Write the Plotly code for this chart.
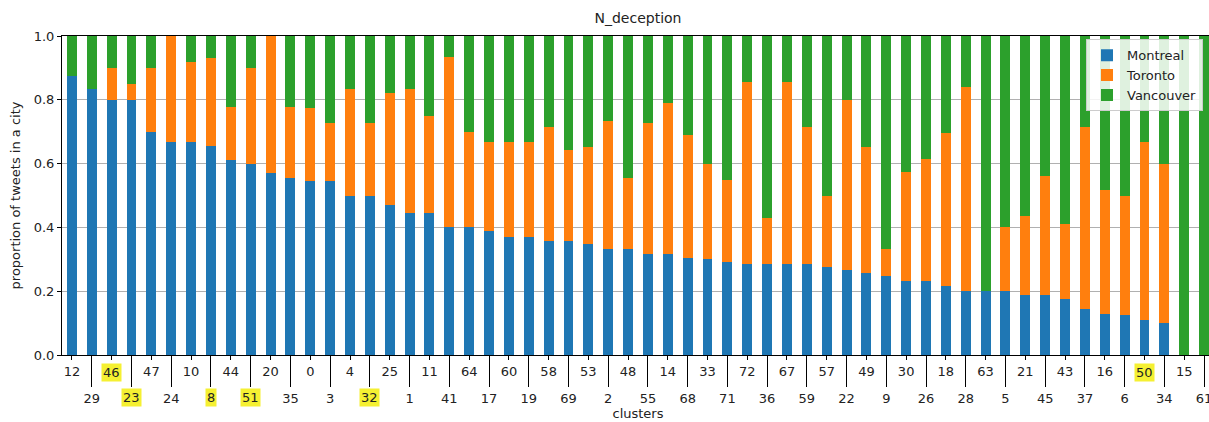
import plotly.graph_objects as go

clusters = ["12", "29", "46", "23", "47", "24", "10", "8", "44", "51",
            "20", "35", "0", "3", "4", "32", "25", "1", "11", "41",
            "64", "17", "60", "19", "58", "69", "53", "2", "48", "55",
            "14", "68", "33", "71", "72", "36", "67", "59", "57", "22",
            "49", "9", "30", "26", "18", "28", "63", "5", "21", "45",
            "43", "37", "16", "6", "50", "34", "15", "61"]

montreal = [0.875, 0.833, 0.800, 0.800, 0.700, 0.667, 0.667, 0.655, 0.611, 0.600,
            0.571, 0.556, 0.545, 0.545, 0.500, 0.500, 0.469, 0.444, 0.444, 0.400,
            0.400, 0.389, 0.370, 0.370, 0.357, 0.357, 0.348, 0.333, 0.333, 0.318,
            0.316, 0.305, 0.300, 0.290, 0.286, 0.286, 0.286, 0.286, 0.277, 0.266,
            0.258, 0.247, 0.231, 0.231, 0.217, 0.200, 0.200, 0.200, 0.1875, 0.1875,
            0.176, 0.143, 0.130, 0.125, 0.111, 0.100, 0.0, 0.0]

toronto = [0.0, 0.0, 0.100, 0.050, 0.200, 0.333, 0.250, 0.276, 0.167, 0.300,
           0.429, 0.222, 0.228, 0.182, 0.333, 0.227, 0.353, 0.389, 0.306, 0.533,
           0.300, 0.278, 0.297, 0.297, 0.357, 0.286, 0.304, 0.400, 0.223, 0.409,
           0.473, 0.385, 0.300, 0.259, 0.571, 0.143, 0.571, 0.428, 0.223, 0.534,
           0.395, 0.086, 0.344, 0.384, 0.479, 0.640, 0.0, 0.200, 0.2475, 0.375,
           0.236, 0.571, 0.386, 0.375, 0.556, 0.500, 0.0, 0.0]

vancouver = [round(1 - m - t, 4) for m, t in zip(montreal, toronto)]

highlighted = ["46", "23", "8", "51", "32", "50"]

colors = {"Montreal": "#1f77b4", "Toronto": "#ff7f0e", "Vancouver": "#2ca02c"}
FONT = "DejaVu Sans"
TXT = "#222222"

xpos = list(range(len(clusters)))
even_idx = [i for i in xpos if i % 2 == 0]
odd_idx = [i for i in xpos if i % 2 == 1]

fig = go.Figure()
for name, vals in [("Montreal", montreal), ("Toronto", toronto), ("Vancouver", vancouver)]:
    fig.add_trace(go.Bar(x=xpos, y=vals, name=name, width=0.5,
                         marker=dict(color=colors[name], line=dict(width=0))))

# helper trace so the second (long-tick) x axis is drawn
fig.add_trace(go.Scatter(x=[xpos[0], xpos[-1]], y=[0, 0], xaxis="x2", mode="lines",
                         line=dict(width=0), opacity=0, showlegend=False,
                         hoverinfo="skip"))

XRANGE = [-0.5, 57.5]
# the original axes run slightly past the right edge of the cropped picture
W, H = 1214, 422
L, T, B = 62, 36, 67
PW = W - L

fig.update_layout(
    width=W, height=H,
    margin=dict(l=L, r=0, t=T, b=B, pad=0),
    paper_bgcolor="white", plot_bgcolor="white",
    barmode="stack", bargap=0,
    font=dict(family=FONT, size=13, color=TXT),
    title=dict(text="N_deception", x=638 / W,
               xanchor="center", y=1 - 18 / H, yanchor="middle",
               font=dict(family=FONT, size=14, color=TXT)),
    showlegend=True,
    legend=dict(x=(1203 - L) / PW, xanchor="right", y=0.99, yanchor="top",
                bgcolor="rgba(255,255,255,0.85)", bordercolor="#cccccc", borderwidth=1,
                traceorder="normal", font=dict(family=FONT, size=13, color=TXT),
                itemwidth=30, tracegroupgap=0),
    xaxis=dict(range=XRANGE, tickmode="array", tickvals=even_idx,
               ticktext=[clusters[i] for i in even_idx],
               ticks="outside", ticklen=4, tickwidth=1, tickcolor="black",
               showline=True, linecolor="black", linewidth=1, mirror=True,
               showgrid=False, zeroline=False, automargin=False,
               ticklabeloverflow="allow",
               tickfont=dict(family=FONT, size=13, color=TXT)),
    xaxis2=dict(range=XRANGE, overlaying="x", anchor="y", side="bottom",
                tickmode="array", tickvals=odd_idx,
                ticktext=[clusters[i] for i in odd_idx],
                ticks="outside", ticklen=31, tickwidth=1, tickcolor="black",
                showline=False, showgrid=False, zeroline=False, automargin=False,
                ticklabeloverflow="allow",
                tickfont=dict(family=FONT, size=13, color=TXT),
                title=dict(text="clusters", standoff=1,
                           font=dict(family=FONT, size=13, color=TXT))),
    yaxis=dict(range=[0, 1], tickmode="array", tickvals=[0, 0.2, 0.4, 0.6, 0.8, 1.0],
               tickformat=".1f", ticks="outside", ticklen=4, tickwidth=1, tickcolor="black",
               showline=True, linecolor="black", linewidth=1, mirror=False,
               showgrid=True, gridcolor="#b0b0b0", gridwidth=0.8, zeroline=False,
               automargin=False,
               tickfont=dict(family=FONT, size=13, color=TXT),
               title=dict(text="proportion of tweets in a city", standoff=10,
                          font=dict(family=FONT, size=13, color=TXT))),
)

# yellow highlight behind some cluster labels
for i, lab in enumerate(clusters):
    if lab in highlighted:
        shift = -17 if i % 2 == 0 else -42
        fig.add_annotation(x=i, xref="x", y=0, yref="paper", yshift=shift,
                           text=lab, showarrow=False, xanchor="center", yanchor="middle",
                           bgcolor="#f5f032", borderpad=1,
                           font=dict(family=FONT, size=13, color=TXT))

fig.write_html("out.html",
               config={"displayModeBar": False},
               post_script="document.body.style.margin='0px';"
                           "document.body.style.overflow='hidden';")
